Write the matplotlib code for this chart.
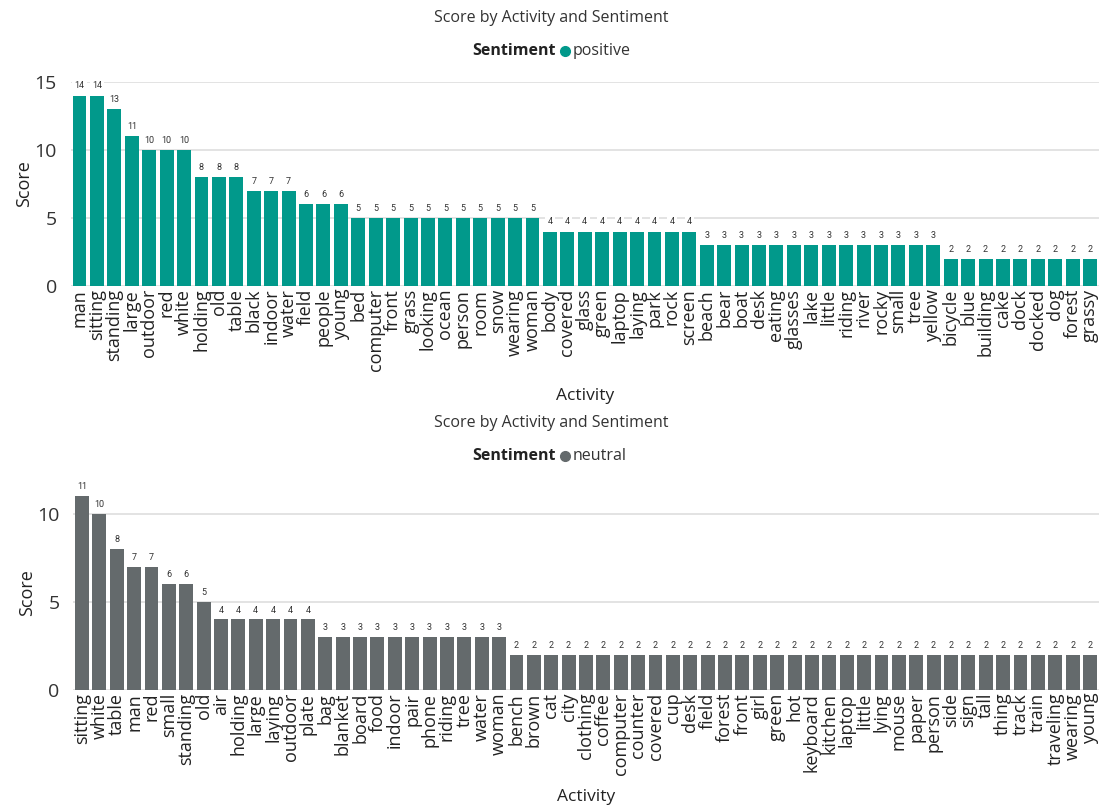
import matplotlib
matplotlib.use("Agg")
import matplotlib.pyplot as plt
from matplotlib.lines import Line2D

plt.rcParams['font.family'] = ['Open Sans', 'DejaVu Sans']

# positive sentiment scores
pos_words = ["man", "sitting", "standing", "large", "outdoor", "red", "white",
             "holding", "old", "table", "black", "indoor", "water", "field",
             "people", "young", "bed", "computer", "front", "grass", "looking",
             "ocean", "person", "room", "snow", "wearing", "woman", "body",
             "covered", "glass", "green", "laptop", "laying", "park", "rock",
             "screen", "beach", "bear", "boat", "desk", "eating", "glasses",
             "lake", "little", "riding", "river", "rocky", "small", "tree",
             "yellow", "bicycle", "blue", "building", "cake", "dock", "docked",
             "dog", "forest", "grassy"]
pos_scores = [14, 14, 13, 11, 10, 10, 10, 8, 8, 8, 7, 7, 7, 6, 6, 6,
              5, 5, 5, 5, 5, 5, 5, 5, 5, 5, 5,
              4, 4, 4, 4, 4, 4, 4, 4, 4,
              3, 3, 3, 3, 3, 3, 3, 3, 3, 3, 3, 3, 3, 3,
              2, 2, 2, 2, 2, 2, 2, 2, 2]

# neutral sentiment scores
neu_words = ["sitting", "white", "table", "man", "red", "small", "standing",
             "old", "air", "holding", "large", "laying", "outdoor", "plate",
             "bag", "blanket", "board", "food", "indoor", "pair", "phone",
             "riding", "tree", "water", "woman", "bench", "brown", "cat",
             "city", "clothing", "coffee", "computer", "counter", "covered",
             "cup", "desk", "field", "forest", "front", "girl", "green", "hot",
             "keyboard", "kitchen", "laptop", "little", "lying", "mouse",
             "paper", "person", "side", "sign", "tall", "thing", "track",
             "train", "traveling", "wearing", "young"]
neu_scores = [11, 10, 8, 7, 7, 6, 6, 5, 4, 4, 4, 4, 4, 4,
              3, 3, 3, 3, 3, 3, 3, 3, 3, 3, 3] + [2] * 34

TEAL = "#01998b"
GRAY = "#646a6c"
GRID = "#dedede"


def bar_panel(ax, words, scores, color, ymax, yticks):
    x = range(len(words))
    ax.bar(x, scores, width=0.8, color=color, zorder=2)
    for xi, v in zip(x, scores):
        ax.text(xi, v + ymax * 0.025, str(v), ha="center", va="bottom",
                fontsize=6.5, family="Roboto", color="#333333", zorder=4,
                bbox=dict(boxstyle="square,pad=0.25", fc="white", ec="none"))
    ax.set_xlim(-0.5, len(words) - 0.5)
    ax.set_ylim(0, ymax)
    ax.set_yticks(yticks)
    ax.set_xticks(list(x))
    ax.set_xticklabels(words, rotation=90, fontsize=13, color="#222222")
    ax.tick_params(axis="y", labelsize=14, colors="#333333", length=0, pad=10)
    ax.tick_params(axis="x", length=0, pad=2)
    ax.yaxis.grid(True, color=GRID, linewidth=1.2, zorder=0)
    ax.set_axisbelow(True)
    for s in ax.spines.values():
        s.set_visible(False)
    ax.set_ylabel("Score", fontsize=13, color="#222222", labelpad=1)


def header(fig, y_title, y_leg, color, label):
    fig.text(0.5, y_title, "Score by Activity and Sentiment", ha="center",
             va="center", fontsize=11.5, color="#333333")
    fig.text(0.504, y_leg, "Sentiment", ha="right", va="center",
             fontsize=11.5, fontweight="bold", color="#222222")
    fig.add_artist(Line2D([0.5125], [y_leg], marker="o", markersize=7,
                          color=color, transform=fig.transFigure))
    fig.text(0.519, y_leg, label, ha="left", va="center", fontsize=11.5,
             color="#333333")


fig = plt.figure(figsize=(11.03, 8.07), dpi=100)

ax1 = fig.add_axes([70.8 / 1103, 1 - 286 / 807, 1028 / 1103, 204 / 807])
bar_panel(ax1, pos_words, pos_scores, TEAL, 15, [0, 5, 10, 15])
ax1.set_xlabel("Activity", fontsize=12.5, color="#222222", labelpad=12)

ax2 = fig.add_axes([73.3 / 1103, 1 - 690 / 807, 1025.4 / 1103, 194 / 807])
bar_panel(ax2, neu_words, neu_scores, GRAY, 11, [0, 5, 10])
ax2.set_xlabel("Activity", fontsize=12.5, color="#222222", labelpad=10)

header(fig, 1 - 18 / 807, 1 - 51 / 807, TEAL, "positive")
header(fig, 1 - 423 / 807, 1 - 456 / 807, GRAY, "neutral")

fig.savefig("out.png", dpi=100, facecolor="white")
